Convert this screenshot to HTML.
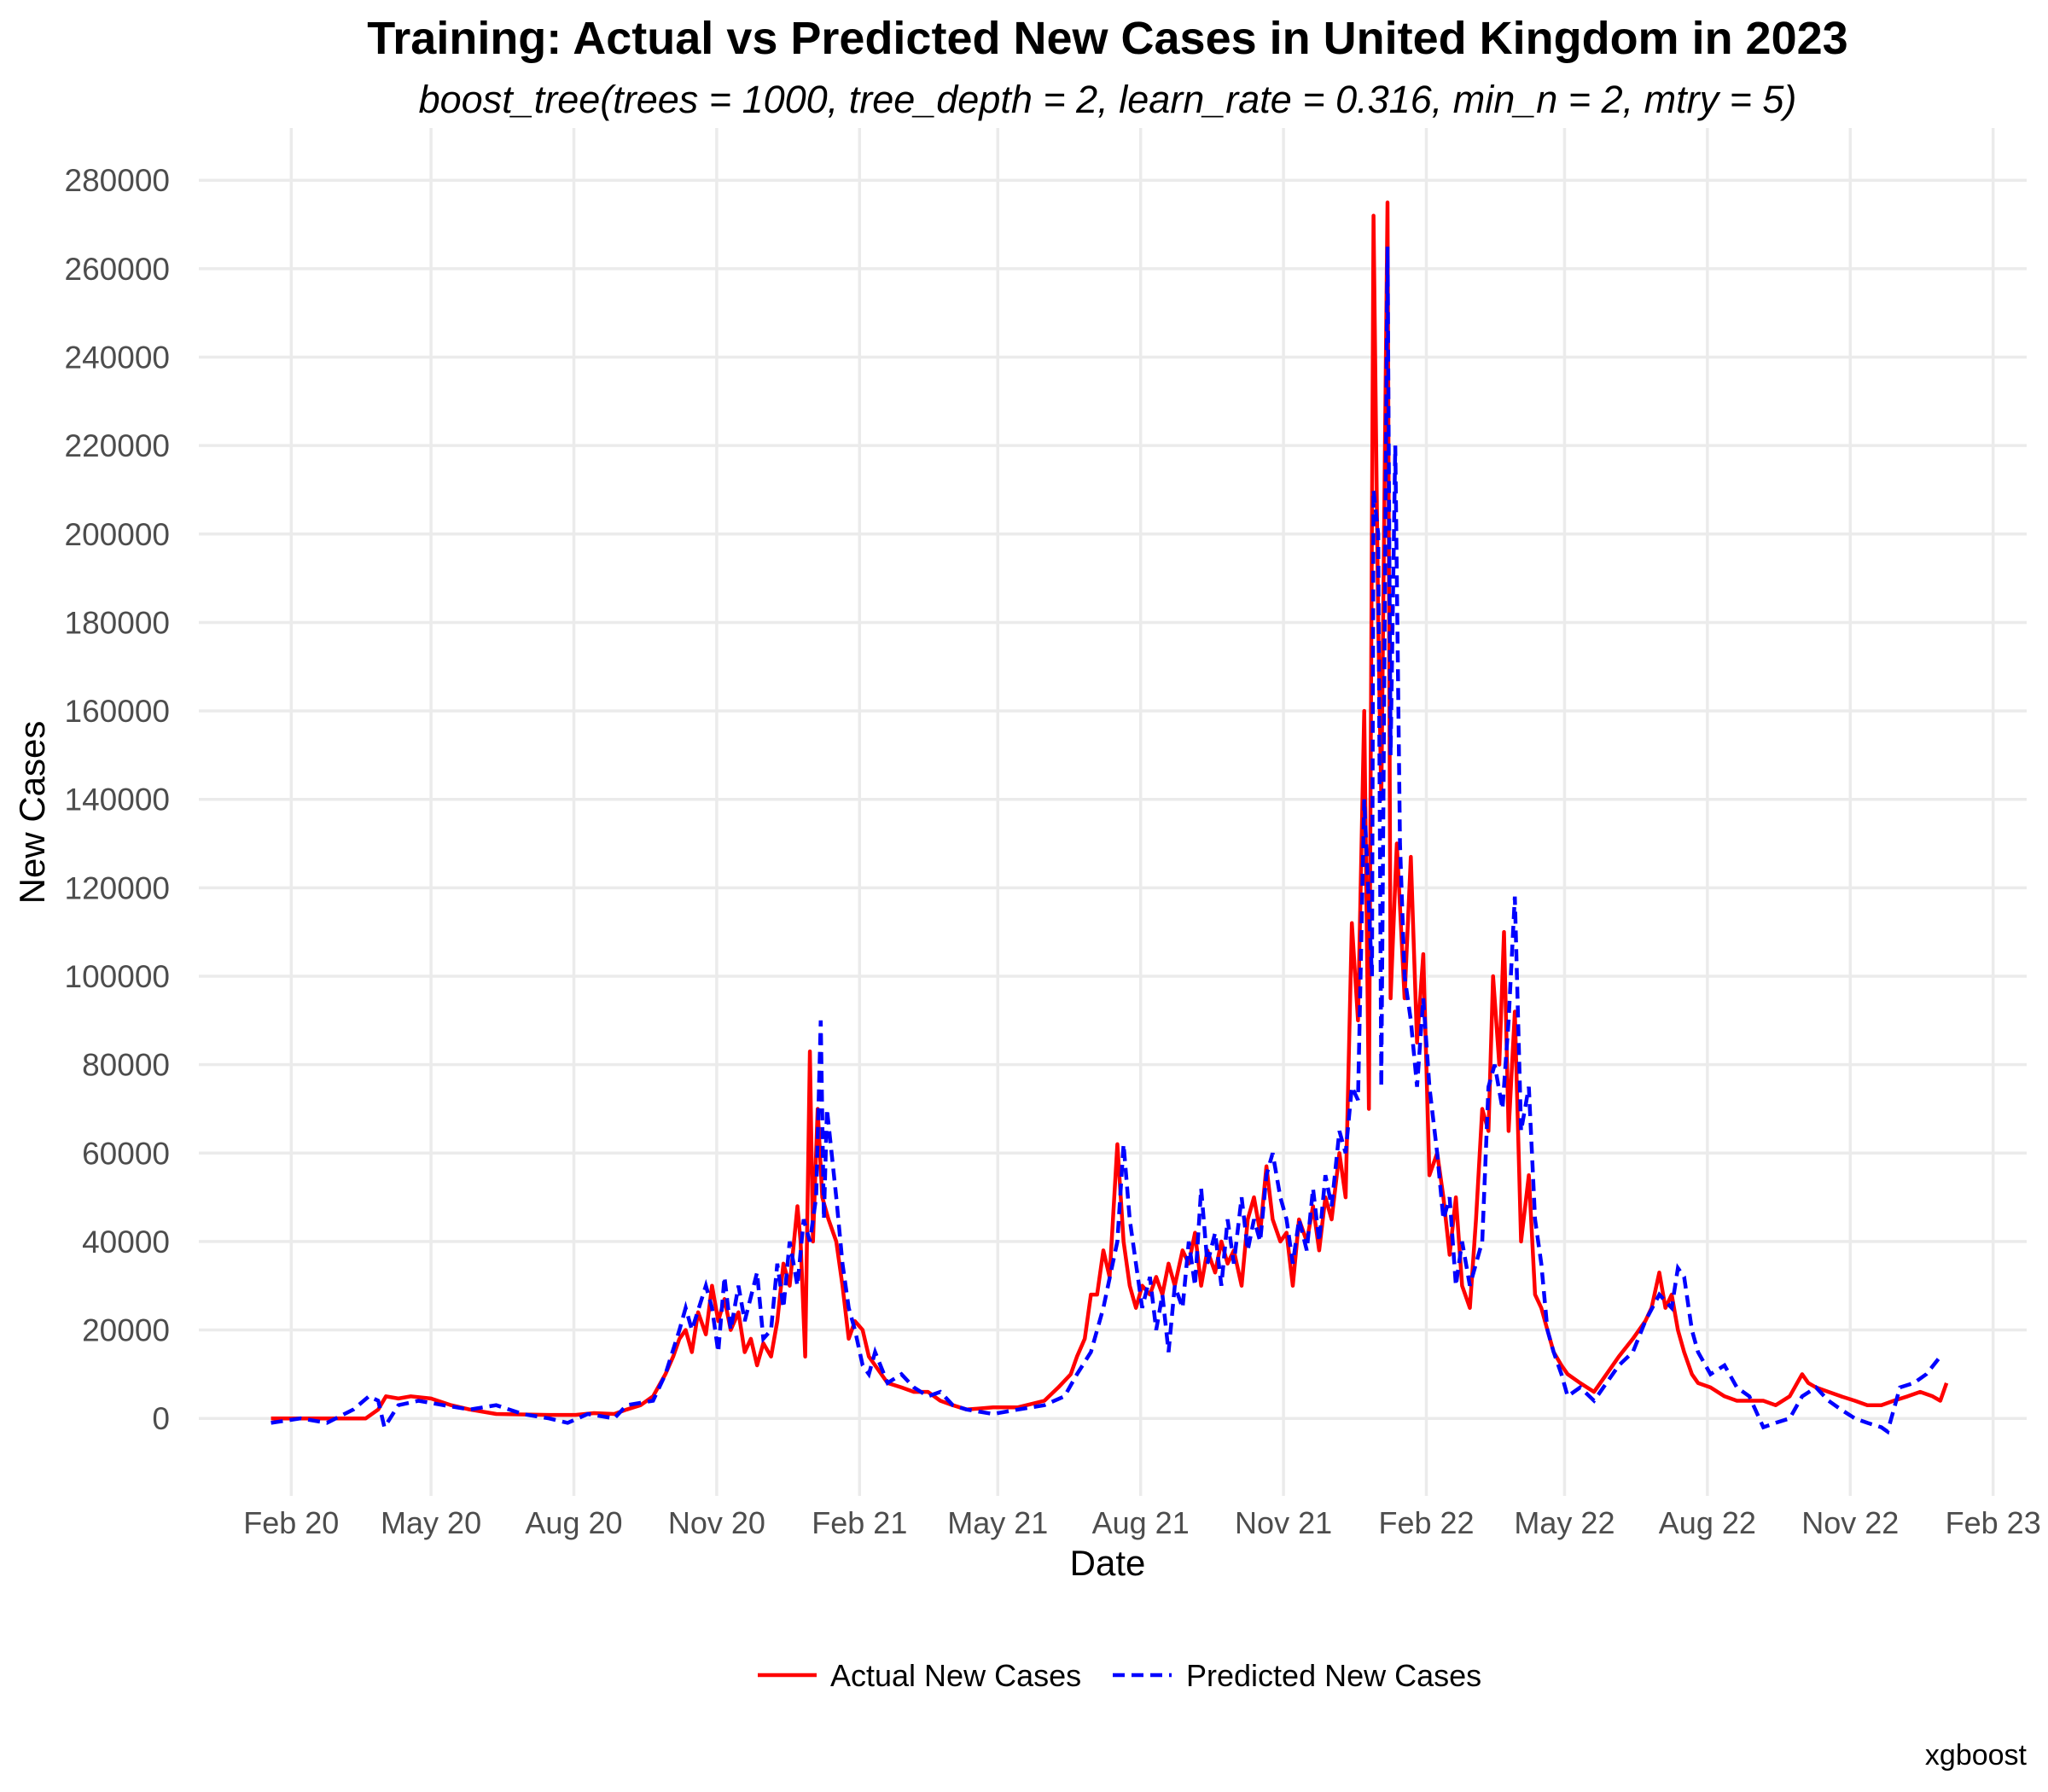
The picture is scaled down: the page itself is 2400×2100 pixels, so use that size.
<!DOCTYPE html>
<html><head><meta charset="utf-8"><style>
body{margin:0;background:#fff;}
svg{display:block;font-family:"Liberation Sans",Arial,sans-serif;}
</style></head><body>
<svg id="chart" width="2400" height="2100" viewBox="0 0 2400 2100">
<text x="1298" y="63" text-anchor="middle" font-size="54" font-weight="bold" fill="#000">Training: Actual vs Predicted New Cases in United Kingdom in 2023</text>
<text x="1298" y="132" text-anchor="middle" font-size="45" font-style="italic" fill="#000">boost_tree(trees = 1000, tree_depth = 2, learn_rate = 0.316, min_n = 2, mtry = 5)</text>
<g id="grid"></g>
<g id="yticks"></g>
<g id="xticks"></g>
<g id="series"></g>
<text x="1298" y="1846" text-anchor="middle" font-size="42" fill="#000">Date</text>
<text transform="translate(52,952) rotate(-90)" text-anchor="middle" font-size="42" fill="#000">New Cases</text>
<g>
<g><line x1="888" y1="1963" x2="957" y2="1963" stroke="#ff0000" stroke-width="4.5"/><text x="973" y="1976" font-size="36" fill="#000">Actual New Cases</text></g>
<g><line x1="1304" y1="1963" x2="1373" y2="1963" stroke="#0000ff" stroke-width="4.5" stroke-dasharray="14,8"/><text x="1390" y="1976" font-size="36" fill="#000">Predicted New Cases</text></g>
</g>
<text x="2375" y="2068" text-anchor="end" font-size="34" fill="#000">xgboost</text>
</svg>
<script>
const yTicks=[0,20000,40000,60000,80000,100000,120000,140000,160000,180000,200000,220000,240000,260000,280000];
const xTickLabels=["Feb 20","May 20","Aug 20","Nov 20","Feb 21","May 21","Aug 21","Nov 21","Feb 22","May 22","Aug 22","Nov 22","Feb 23"];
const xTickDays=[0,90,182,274,366,455,547,639,731,820,912,1004,1096];
const actualDays=[-13,6,23,40,48,56,61,69,77,90,103,115,132,166,183,195,208,216,225,233,241,246,250,254,258,262,267,271,275,279,283,288,292,296,300,304,309,313,317,321,326,328,331,334,336,339,342,346,351,355,359,363,368,372,376,384,393,401,410,418,426,435,452,468,485,494,502,506,511,515,519,523,527,532,536,540,544,548,553,557,561,565,569,574,578,582,586,590,595,599,603,607,612,616,620,624,628,632,637,641,645,649,654,658,662,666,670,675,679,683,687,691,694,697,700,702,706,708,712,717,721,725,729,733,738,742,746,750,754,759,763,767,771,774,778,781,784,788,792,797,801,805,809,813,818,822,830,839,847,855,864,872,876,881,885,889,893,897,902,906,914,923,931,939,948,956,965,973,977,982,990,998,1007,1015,1024,1032,1041,1049,1057,1062,1066];
const actualCases=[0,0,0,0,0,2000,5000,4500,5000,4500,3000,2000,1000,800,800,1200,1000,2000,3000,5000,10000,14000,18000,20000,15000,24000,19000,30000,22000,27000,20000,24000,15000,18000,12000,17000,14000,22000,35000,30000,48000,40000,14000,83000,40000,70000,50000,45000,40000,30000,18000,22000,20000,14000,12000,8000,7000,6000,6000,4000,3000,2000,2500,2500,4000,7000,10000,14000,18000,28000,28000,38000,32000,62000,40000,30000,25000,30000,28000,32000,28000,35000,30000,38000,35000,42000,30000,38000,33000,40000,35000,38000,30000,45000,50000,42000,57000,45000,40000,42000,30000,45000,40000,48000,38000,50000,45000,60000,50000,112000,90000,160000,70000,272000,180000,140000,275000,95000,130000,95000,127000,85000,105000,55000,60000,50000,37000,50000,30000,25000,45000,70000,65000,100000,80000,110000,65000,92000,40000,55000,28000,25000,20000,15000,12000,10000,8000,6000,10000,14000,18000,22000,25000,33000,25000,28000,20000,15000,10000,8000,7000,5000,4000,4000,4000,3000,5000,10000,8000,7000,6000,5000,4000,3000,3000,4000,5000,6000,5000,4000,8000];
const predictedDays=[-13,6,23,40,50,56,60,69,82,98,115,132,149,166,178,191,208,216,233,241,250,254,258,267,271,275,279,283,288,292,300,304,309,313,317,321,326,330,334,338,341,343,345,351,355,359,363,368,372,376,384,393,401,410,418,426,435,452,468,485,498,506,515,523,532,536,540,544,548,553,557,561,565,569,574,578,582,586,590,595,599,603,607,612,616,620,624,628,632,637,641,645,649,654,658,662,666,670,675,679,683,687,691,696,697,700,702,706,708,711,714,717,721,725,729,733,738,742,746,750,754,759,763,767,771,775,780,784,788,792,797,801,805,809,813,818,822,830,839,847,855,864,872,881,889,893,897,902,906,914,923,931,939,948,956,965,973,982,990,998,1007,1015,1024,1028,1036,1045,1053,1062];
const predictedCases=[-1000,0,-1000,2000,5000,4000,-2000,3000,4000,3000,2000,3000,1000,0,-1000,1000,0,3000,4000,10000,20000,25000,20000,30000,25000,15000,32000,20000,30000,22000,33000,18000,20000,35000,25000,40000,30000,45000,40000,50000,90000,45000,70000,50000,35000,25000,20000,12000,10000,15000,8000,10000,7000,5000,6000,3000,2000,1000,2000,3000,5000,10000,15000,25000,40000,62000,45000,35000,25000,32000,20000,28000,15000,30000,25000,40000,30000,52000,35000,42000,30000,45000,35000,50000,38000,45000,40000,55000,60000,50000,45000,35000,45000,38000,52000,40000,55000,48000,65000,60000,75000,72000,140000,100000,210000,200000,75000,265000,150000,220000,130000,100000,90000,75000,95000,75000,60000,45000,50000,30000,40000,30000,35000,40000,75000,80000,70000,90000,118000,65000,75000,45000,35000,20000,15000,10000,5000,7000,4000,8000,12000,15000,22000,28000,25000,34000,32000,20000,15000,10000,12000,7000,5000,-2000,-1000,0,5000,7000,4000,2000,0,-1000,-2000,-3000,7000,8000,10000,14000];

const X0=341.3, PXD=1.8197, Y0=1662.2, PXV=103.64/20000;
const L=233, R=2375, T=150, B=1753;
function xs(d){return X0+d*PXD;}
function ys(v){return Y0-v*PXV;}
const NS="http://www.w3.org/2000/svg";
function mk(tag,attrs,parent){const e=document.createElementNS(NS,tag);for(const k in attrs)e.setAttribute(k,attrs[k]);parent.appendChild(e);return e;}
const grid=document.getElementById('grid'),yg=document.getElementById('yticks'),xg=document.getElementById('xticks'),sg=document.getElementById('series');
yTicks.forEach(v=>{
  const l=mk('line',{x1:L,x2:R,y1:ys(v),y2:ys(v),stroke:'#ebebeb','stroke-width':3.5},grid);
  
  
  const t=mk('text',{x:199,y:ys(v)+13,'text-anchor':'end','font-size':37,fill:'#4d4d4d'},yg);
  t.textContent=v;
  
  
});
xTickDays.forEach((d,i)=>{
  const l=mk('line',{x1:xs(d),x2:xs(d),y1:T,y2:B,stroke:'#ebebeb','stroke-width':3.5},grid);
  
  
  const t=mk('text',{x:xs(d),y:1797,'text-anchor':'middle','font-size':36,fill:'#4d4d4d'},xg);
  t.textContent=xTickLabels[i];
  
  
});
function path(days,vals){return days.map((d,i)=>(i?'L':'M')+xs(d).toFixed(1)+','+ys(vals[i]).toFixed(1)).join('');}
const pa=mk('path',{d:path(actualDays,actualCases),fill:'none',stroke:'#ff0000','stroke-width':4.5,'stroke-linejoin':'round'},sg);


const pp=mk('path',{d:path(predictedDays,predictedCases),fill:'none',stroke:'#0000ff','stroke-width':4.5,'stroke-dasharray':'14,8'},sg);


</script>
</body></html>
